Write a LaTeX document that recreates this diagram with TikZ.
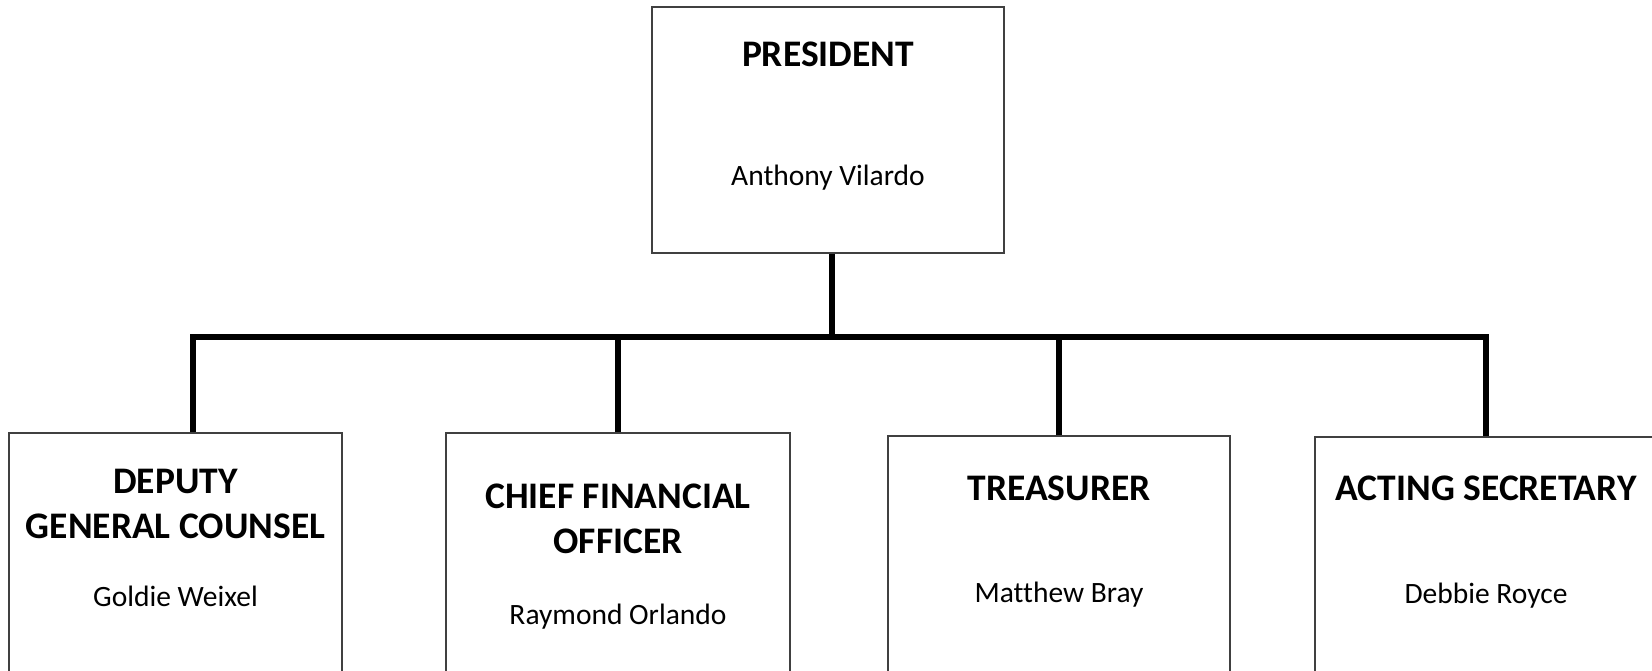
\documentclass[tikz,border=0pt]{standalone}
\usepackage{fontspec}
\setmainfont{Carlito}[Ligatures=NoCommon]
\usepackage{tikz}
\usetikzlibrary{positioning,calc}

\begin{document}
\begin{tikzpicture}[x=1pt,y=-1pt,
    post/.style={draw=black!75, line width=1.2pt, rectangle, inner sep=0pt},
    title/.style={anchor=base, align=center, font=\fontsize{37.5}{44.5}\selectfont\bfseries},
    who/.style={anchor=base, font=\fontsize{29.5}{35}\selectfont},
    link/.style={line width=6pt, line join=miter}]
    \useasboundingbox (0,0) rectangle (1652,670);
    \clip (0,0) rectangle (1652,670);
    \node [post, minimum width=352, minimum height=246] (pres) at (828,130) {};
    \node [post, minimum width=333, minimum height=267] (dep) at (175.5,566.5) {};
    \node [post, minimum width=344, minimum height=267] (cfo) at (618,566.5) {};
    \node [post, minimum width=342, minimum height=264] (treas) at (1059,568) {};
    \node [post, minimum width=342, minimum height=263] (sec) at (1486,568.5) {};
    \node [title] (prest) at (828,66) {PRESIDENT};
    \node [who] (presn) at (828,185) {Anthony Vilardo};
    \node [title] (dept) at (175.5,538) {DEPUTY\\GENERAL COUNSEL};
    \node [who] (depn) at (175.5,606) {Goldie Weixel};
    \node [title] (cfot) at (618,553) {CHIEF FINANCIAL\\OFFICER};
    \node [who] (cfon) at (618,624) {Raymond Orlando};
    \node [title] (treast) at (1059,500) {TREASURER};
    \node [who] (treasn) at (1059,602) {Matthew Bray};
    \node [title] (sect) at (1486,500) {ACTING SECRETARY};
    \node [who] (secn) at (1486,603) {Debbie Royce};
    \coordinate (bus) at (832,337);
    \coordinate (prestop) at ([xshift=4]pres.south);
    \coordinate (deptop) at ([xshift=17.5]dep.north);
    \draw [link] (prestop) -- (prestop |- bus);
    \draw [link] (deptop) |- (sec.north |- bus) -- (sec.north);
    \draw [link] (cfo.north) -- (cfo.north |- bus);
    \draw [link] (treas.north) -- (treas.north |- bus);
\end{tikzpicture}
\end{document}
